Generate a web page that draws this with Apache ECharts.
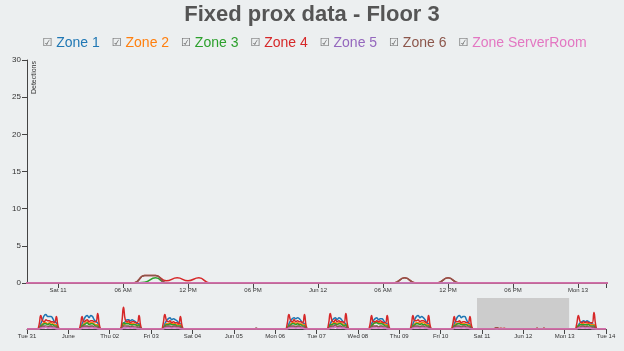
<!DOCTYPE html>
<html>
<head>
<meta charset="utf-8">
<script src="https://cdn.jsdelivr.net/npm/echarts@6/dist/echarts.min.js"></script>
<style>
html,body{margin:0;padding:0;background:#eceff0;}
#chart{width:624px;height:351px;}
</style>
</head>
<body>
<div id="chart"></div>
<script>
// ---- Data (hourly detections, hours 06..19 for each day; [] = no detections) ----
// Days: 0 Tue 31 May, 1 Wed 01, 2 Thu 02, 3 Fri 03, 4 Sat 04, 5 Sun 05, 6 Mon 06,
//       7 Tue 07, 8 Wed 08, 9 Thu 09, 10 Fri 10, 11 Sat 11, 12 Sun 12, 13 Mon 13
const zoneNames = ['Zone 1','Zone 2','Zone 3','Zone 4','Zone 5','Zone 6','Zone ServerRoom'];
const zoneColors = ['#1f77b4','#ff7f0e','#2ca02c','#d62728','#9467bd','#8c564b','#e377c2'];
const firstHour = 6;

const zone1Days = [
  [0,1,5,9,13,14,12,12,12,10,7,6,1,0],
  [0,1,5,9,12,13,11,13,12,9,7,6,1,0],
  [0,1,4,7,9,9,8,9,8,7,5,5,1,0],
  [0,1,5,8,10,11,9,10,9,8,6,5,1,0],
  [], [],
  [0,1,5,8,10,11,10,11,10,8,6,5,1,0],
  [0,1,5,8,10,11,9,11,10,8,6,5,1,0],
  [0,1,5,8,10,11,9,10,10,8,6,5,1,0],
  [0,1,5,9,12,13,11,12,11,9,6,5,1,0],
  [0,1,5,9,12,13,11,12,12,9,6,5,1,0],
  [], [],
  [0,1,4,6,7,8,7,8,7,6,5,4,1,0]
];
const zone2Days = [
  [0,1,3,5,6,6,5,6,6,5,4,4,1,0],
  [0,1,3,5,6,7,5,6,6,5,4,4,1,0],
  [0,2,4,5,6,6,5,5,5,4,4,4,1,0],
  [0,1,3,5,5,6,5,5,5,4,4,4,1,0],
  [], [],
  [0,1,3,5,6,6,5,6,5,5,4,4,1,0],
  [0,1,3,5,6,6,5,6,6,5,4,4,1,0],
  [0,1,3,5,6,7,6,6,6,5,4,4,1,0],
  [0,1,3,5,6,6,5,6,6,5,4,4,1,0],
  [0,1,3,5,5,6,5,5,5,4,4,4,1,0],
  [], [],
  [0,1,3,4,5,5,4,5,5,4,4,4,1,0]
];
const zone3Days = [
  [0,1,3,4,5,5,4,5,4,4,3,3,1,0],
  [0,1,3,4,5,6,4,5,5,4,3,3,1,0],
  [0,2,6,5,5,5,4,4,4,4,3,4,1,0],
  [0,1,3,4,4,5,4,4,4,3,3,3,1,0],
  [], [],
  [0,1,3,4,5,5,4,5,4,4,3,3,1,0],
  [0,1,4,4,5,5,4,5,5,4,3,4,1,0],
  [0,1,3,5,6,6,5,5,5,4,3,3,1,0],
  [0,1,3,4,5,5,4,5,4,4,3,3,1,0],
  [0,1,3,4,5,5,4,4,4,4,3,3,1,0],
  [0,0,0.1,0.7,0,0,0,0,0,0,0,0,0,0],
  [],
  [0,1,3,4,4,4,4,4,4,3,3,3,1,0]
];
const zone4Days = [
  [0,4,13,8,7,9,8,8,7,7,6,12,3,0],
  [0,4,12,7,8,9,7,8,8,7,7,15,4,0],
  [0,6,21,9,7,8,6,7,7,6,6,13,3,0],
  [0,5,14,8,7,8,6,7,6,6,5,12,3,0],
  [], [],
  [0,5,14,8,7,9,7,8,7,7,6,14,3,0],
  [0,5,15,8,7,9,7,8,7,7,6,15,4,0],
  [0,4,13,7,7,8,7,8,7,6,6,13,3,0],
  [0,4,13,8,8,9,7,8,8,7,6,13,3,0],
  [0,4,12,7,7,8,6,7,7,6,6,12,3,0],
  [0,0,1,1,0.3,0.7,0.3,0.7,0,0,0,0,0,0],
  [0,0,0.7,0,0,0,0.7,0,0,0,0,0,0,0],
  [0,5,13,7,6,7,6,7,6,6,6,16,4,0]
];
const zone5Days = [
  [0,0,1,2,2,2,1,2,2,1,1,1,0,0],
  [0,0,1,2,2,2,1,2,2,1,1,1,0,0],
  [0,0,1,1,2,2,1,2,1,1,1,1,0,0],
  [0,0,1,2,2,2,1,2,2,1,1,1,0,0],
  [], [],
  [0,0,1,2,2,2,1,2,2,1,1,1,0,0],
  [0,0,1,2,2,2,1,2,2,1,1,1,0,0],
  [0,0,1,2,2,3,1,2,2,1,1,1,0,0],
  [0,0,1,2,2,2,1,2,2,1,1,1,0,0],
  [0,0,1,2,2,2,1,2,2,1,1,1,0,0],
  [], [],
  [0,0,1,1,2,2,1,2,1,1,1,1,0,0]
];
const zone6Days = [
  [0,0,2,3,3,3,2,3,3,2,2,2,1,0],
  [0,0,2,3,3,3,2,3,3,2,2,2,1,0],
  [0,1,3,3,3,3,2,3,2,2,2,2,1,0],
  [0,0,2,3,3,3,2,3,3,2,2,2,1,0],
  [],
  [0,0,0,0,0,0,0,1,0,0,0,0,0,0],
  [0,0,2,3,3,3,2,3,3,2,2,2,1,0],
  [0,0,2,3,3,4,2,3,3,2,2,2,1,0],
  [0,0,2,3,3,3,2,3,3,2,2,2,1,0],
  [0,0,2,3,3,3,2,3,3,2,2,2,1,0],
  [0,0,2,3,3,3,2,3,3,2,2,2,1,0],
  [0,0,1,1,0,0,0,0,0,0,0,0,0,0],
  [0,0,0.7,0,0,0,0.7,0,0,0,0,0,0,0],
  [0,0,2,2,3,3,2,3,2,2,2,2,1,0]
];
const zoneServerRoomDays = [
  [0,0,1,1,1,2,1,1,1,1,1,0,0,0],
  [0,0,1,1,1,1,1,1,1,1,1,0,0,0],
  [0,0,1,1,1,1,1,1,1,1,0,0,0,0],
  [0,0,1,1,1,1,1,1,1,1,1,0,0,0],
  [], [],
  [0,0,1,1,1,1,1,1,1,1,1,0,0,0],
  [0,0,1,1,1,2,1,1,1,1,1,0,0,0],
  [0,0,1,1,1,1,1,1,1,1,1,0,0,0],
  [0,0,1,1,1,1,1,1,1,1,1,0,0,0],
  [0,0,1,1,1,1,1,1,1,1,1,0,0,0],
  [], [],
  [0,0,1,1,1,1,1,1,1,1,0,0,0,0]
];
const zoneDays = [zone1Days, zone2Days, zone3Days, zone4Days, zone5Days, zone6Days, zoneServerRoomDays];

// Tick labels
const mainTickLabels = ['Sat 11','06 AM','12 PM','06 PM','Jun 12','06 AM','12 PM','06 PM','Mon 13'];
const contextTickLabels = ['Tue 31','June','Thu 02','Fri 03','Sat 04','Jun 05','Mon 06','Tue 07','Wed 08','Thu 09','Fri 10','Sat 11','Jun 12','Mon 13','Tue 14'];
const yTicks = [0, 30, 5];

// ---- build ----
const HOUR = 3600 * 1000;
function t(day, hour) { return new Date(2016, 4, 31 + day, 0, 0).getTime() + hour * HOUR; }
const totalDays = 14;
const focusStart = t(10, 21 + 8 / 60);
const focusEnd = t(13, 2 + 35 / 60);

function buildSeries(days) {
  const out = [];
  for (let d = 0; d < totalDays; d++) {
    const row = days[d] || [];
    for (let h = 0; h < 24; h++) {
      const i = h - firstHour;
      const v = (i >= 0 && i < row.length) ? row[i] : 0;
      out.push([t(d, h), v]);
    }
  }
  out.push([t(totalDays, 0), 0]);
  return out;
}
const seriesData = zoneDays.map(buildSeries);

const mainTicks = mainTickLabels.map((_, i) => t(11, i * 6));
const contextTicks = contextTickLabels.map((_, i) => t(i, 0));

const axisColor = '#444';
const labelColor = '#333';
const FONT = 'Liberation Sans, Arial, sans-serif';

const series = [];
zoneNames.forEach((name, i) => {
  series.push({
    name, type: 'line', xAxisIndex: 0, yAxisIndex: 0,
    data: seriesData[i], smooth: true, showSymbol: false, symbol: 'none',
    lineStyle: { width: 1.5, color: zoneColors[i] }, itemStyle: { color: zoneColors[i] },
    clip: true, animation: false, silent: true
  });
});
zoneNames.forEach((name, i) => {
  const s = {
    name, type: 'line', xAxisIndex: 1, yAxisIndex: 1,
    data: seriesData[i], smooth: true, showSymbol: false, symbol: 'none',
    lineStyle: { width: 1.5, color: zoneColors[i] }, itemStyle: { color: zoneColors[i] },
    clip: true, animation: false, silent: true
  };
  if (i === zoneNames.length - 1) {
    s.markArea = {
      silent: true,
      itemStyle: { color: '#cccccc', opacity: 1 },
      data: [[{ xAxis: focusStart }, { xAxis: focusEnd }]]
    };
  }
  series.push(s);
});

const chart = echarts.init(document.getElementById('chart'), null, { renderer: 'canvas' });
chart.setOption({
  backgroundColor: '#eceff0',
  animation: false,
  title: {
    text: 'Fixed prox data - Floor 3', left: 'center', top: -1,
    textStyle: { fontSize: 22, fontWeight: 'bold', color: '#555', fontFamily: FONT }
  },
  legend: {
    top: 31, left: 'center', icon: 'none', itemWidth: 0, itemHeight: 10, itemGap: 7,
    selectedMode: false,
    data: zoneNames.map((n, i) => ({ name: n, textStyle: { color: zoneColors[i] } })),
    formatter: name => '{cb|☑} ' + name,
    textStyle: {
      fontSize: 14, fontFamily: FONT,
      rich: { cb: { fontFamily: 'DejaVu Sans', fontSize: 11, color: '#666' } }
    }
  },
  grid: [
    { left: 27, right: 18, top: 60, height: 223 },
    { left: 27, right: 18, top: 298, height: 31 }
  ],
  xAxis: [
    {
      gridIndex: 0, type: 'value', min: focusStart, max: focusEnd,
      axisLine: { show: true, lineStyle: { color: axisColor, width: 1 } },
      axisTick: { show: true, length: 5, lineStyle: { color: axisColor }, customValues: mainTicks.concat([focusEnd]) },
      axisLabel: {
        customValues: mainTicks, margin: 4, fontSize: 6, color: labelColor, fontFamily: FONT,
        formatter: v => mainTickLabels[mainTicks.indexOf(v)] || ''
      },
      splitLine: { show: false }
    },
    {
      gridIndex: 1, type: 'value', min: t(0, 0), max: t(totalDays, 0),
      axisLine: { show: true, lineStyle: { color: axisColor, width: 1 } },
      axisTick: { show: true, length: 5, lineStyle: { color: axisColor }, customValues: contextTicks },
      axisLabel: {
        customValues: contextTicks, margin: 4, fontSize: 6, color: labelColor, fontFamily: FONT,
        formatter: v => contextTickLabels[contextTicks.indexOf(v)] || ''
      },
      splitLine: { show: false }
    }
  ],
  yAxis: [
    {
      gridIndex: 0, type: 'value', min: yTicks[0], max: yTicks[1], interval: yTicks[2],
      axisLine: { show: true, lineStyle: { color: axisColor, width: 1 } },
      axisTick: { show: true, length: 5, lineStyle: { color: axisColor } },
      axisLabel: { fontSize: 8, color: labelColor, margin: 6, fontFamily: FONT },
      splitLine: { show: false }
    },
    {
      gridIndex: 1, type: 'value', min: yTicks[0], max: yTicks[1],
      show: false, splitLine: { show: false }
    }
  ],
  graphic: [{
    type: 'text', left: 31, top: 61, rotation: Math.PI / 2,
    style: { text: 'Detections', fontSize: 7, fill: labelColor, fontFamily: FONT }
  }],
  series
});
</script>
</body>
</html>
